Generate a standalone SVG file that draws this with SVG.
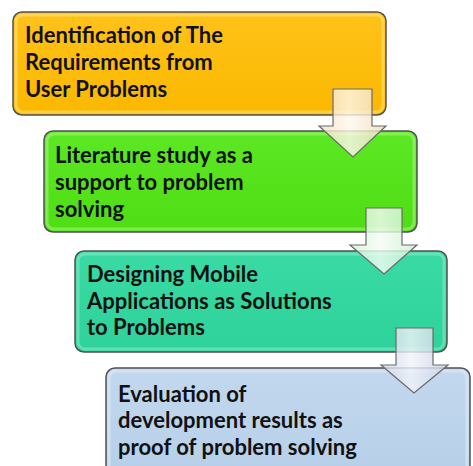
<svg xmlns="http://www.w3.org/2000/svg" width="473" height="466" viewBox="0 0 473 466">
  <style>
    .box { stroke: #505050; stroke-width: 1.5; }
    .bevel { fill: none; stroke-width: 3; stroke-opacity: 0.55; }
    .lbl { font-family: Lato, "Open Sans", "Liberation Sans", sans-serif; font-weight: bold; font-size: 22px; fill: #111; }
    .arrow { stroke: #6a6a6a; stroke-width: 1.2; fill-opacity: 0.82; }
  </style>
  <defs>
    <linearGradient id="gOrange" x1="0" y1="0" x2="0" y2="1">
      <stop offset="0" stop-color="#FFC21A"/>
      <stop offset="1" stop-color="#FBB800"/>
    </linearGradient>
    <linearGradient id="gGreen" x1="0" y1="0" x2="0" y2="1">
      <stop offset="0" stop-color="#5CE824"/>
      <stop offset="1" stop-color="#4FDD14"/>
    </linearGradient>
    <linearGradient id="gTeal" x1="0" y1="0" x2="0" y2="1">
      <stop offset="0" stop-color="#3ADAA4"/>
      <stop offset="1" stop-color="#2ED29A"/>
    </linearGradient>
    <linearGradient id="gBlue" x1="0" y1="0" x2="0" y2="1">
      <stop offset="0" stop-color="#C2D8EE"/>
      <stop offset="1" stop-color="#B6CFE8"/>
    </linearGradient>
    <linearGradient id="aCream" x1="0" y1="0" x2="1" y2="0">
      <stop offset="0" stop-color="#F3DFC0"/>
      <stop offset="0.45" stop-color="#FFF8EE"/>
      <stop offset="1" stop-color="#EEDCBC"/>
    </linearGradient>
    <linearGradient id="aMint" x1="0" y1="0" x2="1" y2="0">
      <stop offset="0" stop-color="#D3F2D6"/>
      <stop offset="0.45" stop-color="#F4FDF5"/>
      <stop offset="1" stop-color="#CDEFD2"/>
    </linearGradient>
    <linearGradient id="aLav" x1="0" y1="0" x2="1" y2="0">
      <stop offset="0" stop-color="#D0D7EA"/>
      <stop offset="0.45" stop-color="#F1F3FA"/>
      <stop offset="1" stop-color="#C9D1E6"/>
    </linearGradient>
  </defs>

  <!-- step 1 -->
  <g id="step1">
    <rect class="box" x="13" y="12" width="373" height="103" rx="9" fill="url(#gOrange)"/>
    <rect class="bevel" x="16" y="15" width="367" height="97" rx="7" stroke="#FFE680"/>
    <text class="lbl" x="25" y="43">Identification of The</text>
    <text class="lbl" x="25" y="70">Requirements from</text>
    <text class="lbl" x="25" y="97">User Problems</text>
  </g>

  <!-- step 2 -->
  <g id="step2">
    <rect class="box" x="44" y="131" width="373" height="101" rx="9" fill="url(#gGreen)"/>
    <rect class="bevel" x="47" y="134" width="367" height="95" rx="7" stroke="#A8F584"/>
    <text class="lbl" x="55" y="163">Literature study as a</text>
    <text class="lbl" x="55" y="190">support to problem</text>
    <text class="lbl" x="55" y="217">solving</text>
  </g>

  <!-- step 3 -->
  <g id="step3">
    <rect class="box" x="75" y="251" width="372" height="101" rx="9" fill="url(#gTeal)"/>
    <rect class="bevel" x="78" y="254" width="366" height="95" rx="7" stroke="#8DEBC8"/>
    <text class="lbl" x="87" y="282">Designing Mobile</text>
    <text class="lbl" x="87" y="309">Applications as Solutions</text>
    <text class="lbl" x="87" y="335">to Problems</text>
  </g>

  <!-- step 4 -->
  <g id="step4">
    <rect class="box" x="106" y="368" width="364" height="110" rx="9" fill="url(#gBlue)"/>
    <rect class="bevel" x="109" y="371" width="358" height="104" rx="7" stroke="#E2EDF8"/>
    <text class="lbl" x="118" y="402">Evaluation of</text>
    <text class="lbl" x="118" y="428">development results as</text>
    <text class="lbl" x="118" y="455">proof of problem solving</text>
  </g>

  <!-- down arrows between steps -->
  <g id="connectors">
    <path class="arrow" fill="url(#aCream)" d="M333,89 H372 V126 H386 L353,157 L319,126 H333 Z"/>
    <path class="arrow" fill="url(#aMint)" d="M366,208 H402 V245 H417 L384,274 L350,245 H366 Z"/>
    <path class="arrow" fill="url(#aLav)" d="M396,328 H433 V365 H448 L414,393 L381,365 H396 Z"/>
  </g>
</svg>
